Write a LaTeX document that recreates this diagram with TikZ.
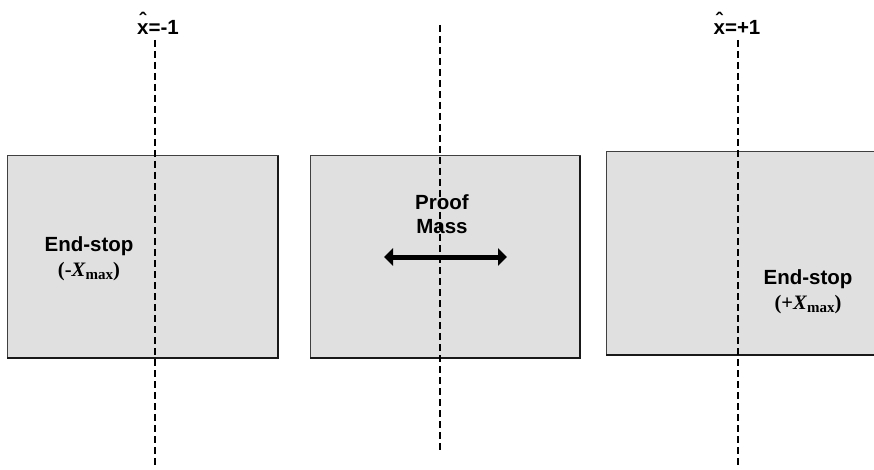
\documentclass[tikz,border=0pt]{standalone}
\usepackage{fontspec}
\setmainfont{Liberation Sans}
\newfontfamily\serifrm{Liberation Serif}
\usetikzlibrary{arrows.meta}
\tikzset{
  stopbox/.style={fill=black!12, draw=black!75, line width=1pt},
  boxshadow/.style={draw=black!90, line width=1.6pt},
  axisline/.style={draw=black, line width=1.5pt, dash pattern=on 7pt off 4pt},
  lbl/.style={font=\fontsize{20.5}{24.5}\selectfont\bfseries, align=center, inner sep=0pt},
}
% bold x with a raised circumflex above it
\newcommand{\xhat}{\ooalign{x\cr\hidewidth\raisebox{0.36em}{\char"02C6}\hidewidth\cr}}
\newcommand{\xmaxlabel}[1]{{\serifrm(\textbf{#1}\textit{X}\raisebox{-0.35ex}{\fontsize{15}{15}\selectfont max})}}
\begin{document}
\begin{tikzpicture}[x=1pt,y=-1pt]
  \useasboundingbox (0,0) rectangle (874,470);

  % the three blocks: two end-stops and the proof mass
  \draw[stopbox] (7,156) rectangle (278,358);
  \draw[boxshadow] (278,156) -- (278,358) -- (7,358);
  \draw[stopbox] (310,156) rectangle (580,358);
  \draw[boxshadow] (580,156) -- (580,358) -- (310,358);
  \draw[stopbox] (606,152) rectangle (874,355);
  \draw[boxshadow] (874,355) -- (606,355);

  % reference axes
  \coordinate (la) at (155,40);  \coordinate (lb) at (155,466);
  \coordinate (ma) at (440,25);  \coordinate (mb) at (440,450);
  \coordinate (ra) at (738,40);  \coordinate (rb) at (738,466);
  \draw[axisline] (la) -- (lb);
  \draw[axisline] (ma) -- (mb);
  \draw[axisline] (ra) -- (rb);

  % axis labels
  \node[lbl, anchor=base] (xm) at (158,35) {\xhat=-1};
  \node[lbl, anchor=base] (xp) at (737,35) {\xhat=+1};

  % block labels
  \node[lbl] (lstop) at (89,259) {End-stop\\\xmaxlabel{-}};
  \node[lbl] (mass) at (442,214) {Proof\\Mass};
  \node[lbl] (rstop) at (808,292) {End-stop\\\xmaxlabel{+}};

  % motion of the proof mass
  \coordinate (al) at (384,257);
  \coordinate (ar) at (507,257);
  \draw[line width=5pt, {Triangle[width=17pt,length=9pt]}-{Triangle[width=17pt,length=9pt]}] (al) -- (ar);
\end{tikzpicture}
\end{document}
